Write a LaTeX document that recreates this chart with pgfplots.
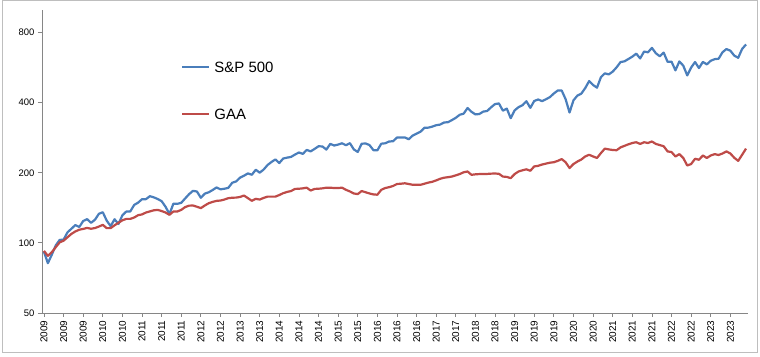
\documentclass[border=0pt]{standalone}
\usepackage{fontspec}
\setmainfont{Liberation Sans}
\usepackage{pgfplots}
\usepackage{pgfplotstable}
\pgfplotsset{compat=1.18}
\definecolor{spblue}{RGB}{74,126,187}
\definecolor{gaared}{RGB}{190,75,72}
\definecolor{axgray}{RGB}{134,134,134}
\definecolor{framegray}{RGB}{190,190,190}

\pgfplotstableread{
m spx gaa
0 91.6 92.4
1 81.8 88.0
2 89.0 91.2
3 97.5 95.8
4 103.0 100.5
5 103.2 102.2
6 111.0 105.7
7 115.0 109.3
8 119.3 112.0
9 117.0 113.9
10 124.1 114.8
11 126.5 116.0
12 121.9 115.0
13 125.7 115.8
14 133.3 117.5
15 135.4 119.5
16 124.6 115.7
17 118.0 115.7
18 126.3 119.0
19 120.6 122.0
20 131.4 125.0
21 136.4 126.8
22 136.4 126.8
23 145.5 128.5
24 148.9 131.5
25 154.0 132.5
26 154.1 135.0
27 158.7 136.5
28 156.9 138.0
29 154.3 138.6
30 151.1 137.0
31 142.9 135.0
32 132.9 132.0
33 147.4 136.4
34 147.1 136.4
35 148.6 138.6
36 155.2 142.5
37 161.9 144.5
38 167.3 144.7
39 166.2 143.0
40 156.2 141.0
41 162.7 144.7
42 164.9 148.0
43 168.6 150.0
44 173.0 151.5
45 169.8 152.0
46 170.8 153.5
47 172.3 155.6
48 181.2 156.3
49 183.7 156.5
50 190.6 157.5
51 194.3 159.7
52 198.8 155.6
53 196.1 151.6
54 206.1 154.6
55 200.2 153.5
56 206.4 156.0
57 215.9 158.0
58 222.5 158.0
59 228.2 158.0
60 220.3 160.5
61 230.3 163.5
62 232.3 165.5
63 234.0 167.0
64 239.5 170.5
65 244.4 170.8
66 241.1 171.5
67 250.7 172.6
68 247.2 167.8
69 253.2 170.5
70 260.0 170.8
71 259.4 171.5
72 251.6 172.6
73 266.1 172.6
74 261.9 172.0
75 264.4 172.0
76 267.8 172.6
77 262.6 169.0
78 268.1 166.3
79 252.0 163.0
80 245.7 162.0
81 266.5 167.0
82 267.3 165.0
83 263.1 163.0
84 250.0 161.5
85 249.7 161.0
86 266.6 169.0
87 267.7 172.0
88 272.5 173.5
89 273.2 175.5
90 283.3 179.0
91 283.7 179.5
92 283.7 180.3
93 278.6 179.0
94 288.9 177.6
95 294.6 177.6
96 300.2 177.6
97 312.1 179.5
98 312.5 181.5
99 315.7 183.0
100 320.1 185.5
101 322.1 188.5
102 328.8 190.5
103 329.8 191.5
104 336.6 192.7
105 344.4 195.0
106 355.0 197.5
107 358.9 201.0
108 379.5 202.6
109 365.5 196.0
110 356.2 197.0
111 357.6 197.5
112 366.2 197.5
113 368.5 197.8
114 382.2 198.3
115 394.6 198.6
116 396.9 198.0
117 369.7 192.7
118 377.3 192.0
119 343.2 189.7
120 370.7 197.5
121 382.6 202.6
122 390.0 205.0
123 405.8 207.0
124 380.0 204.0
125 406.8 213.0
126 412.7 214.2
127 406.2 217.0
128 413.8 219.0
129 422.7 221.0
130 438.1 222.0
131 451.3 225.0
132 451.1 229.0
133 414.0 222.0
134 362.9 209.6
135 409.4 218.0
136 428.9 223.5
137 437.4 228.0
138 462.1 235.0
139 495.3 239.0
140 476.5 235.0
141 463.8 231.5
142 514.6 243.0
143 534.4 254.0
144 529.0 252.0
145 543.6 250.5
146 567.4 250.0
147 597.7 257.0
148 601.9 261.0
149 615.9 265.0
150 630.5 268.5
151 649.7 270.5
152 619.5 266.0
153 662.9 270.5
154 658.4 268.5
155 687.8 272.5
156 652.3 266.0
157 632.8 263.0
158 656.3 260.0
159 599.0 247.0
160 600.1 245.5
161 550.6 235.0
162 601.4 240.5
163 576.8 231.5
164 523.7 215.0
165 566.1 218.0
166 597.8 229.7
167 563.3 227.5
168 598.7 237.3
169 584.1 231.5
170 605.5 237.3
171 615.0 240.5
172 617.6 238.5
173 658.5 242.0
174 679.6 247.0
175 668.8 242.0
176 636.9 232.0
177 623.5 225.0
178 680.4 239.0
179 711.3 254.0
}\chartdata

\begin{document}
\begin{tikzpicture}
\path[use as bounding box] (-42bp,-44bp) rectangle (718bp,313bp);
\draw[framegray, line width=1bp] (-39.5bp,-39.5bp) rectangle (715.5bp,312.5bp);
\begin{axis}[
  at={(0,0)}, anchor=south west, scale only axis,
  width=706bp, height=303bp,
  xmin=-0.5, xmax=179.5,
  ymode=log, log basis y=2, ymin=50, ymax=1000,
  axis x line*=bottom, axis y line*=left,
  axis line style={axgray, line width=0.8bp, -},
  tick style={axgray, line width=0.8bp},
  tick align=outside,
  major tick length=4bp,
  xtick={0,5,...,175},
  xticklabels={2009,2009,2009,2010,2010,2011,2011,2011,2012,2012,2013,2013,2014,2014,2014,2015,2015,2016,2016,2016,2017,2017,2018,2018,2019,2019,2019,2020,2020,2021,2021,2021,2022,2022,2023,2023},
  xticklabel style={rotate=90, anchor=east, font=\fontsize{10}{11}\selectfont},
  ytick={50,100,200,400,800},
  yticklabels={50,100,200,400,800},
  yticklabel style={font=\fontsize{9.5}{11}\selectfont},
  /pgf/number format/assume math mode=true,
  minor tick num=0,
  clip=false,
]
\addplot[spblue, line width=2.2bp, line join=round] table[x=m, y=spx] {\chartdata};
\addplot[gaared, line width=2.2bp, line join=round] table[x=m, y=gaa] {\chartdata};
\draw[spblue, line width=2.2bp] (rel axis cs:0.1983,0.8119) -- (rel axis cs:0.2365,0.8119);
\node[anchor=west, inner sep=0pt, font=\fontsize{15}{17}\selectfont] at (rel axis cs:0.2440,0.8119) {S\&P 500};
\draw[gaared, line width=2.2bp] (rel axis cs:0.1983,0.6568) -- (rel axis cs:0.2365,0.6568);
\node[anchor=west, inner sep=0pt, font=\fontsize{15}{17}\selectfont] at (rel axis cs:0.2440,0.6568) {GAA};
\end{axis}
\end{tikzpicture}
\end{document}
